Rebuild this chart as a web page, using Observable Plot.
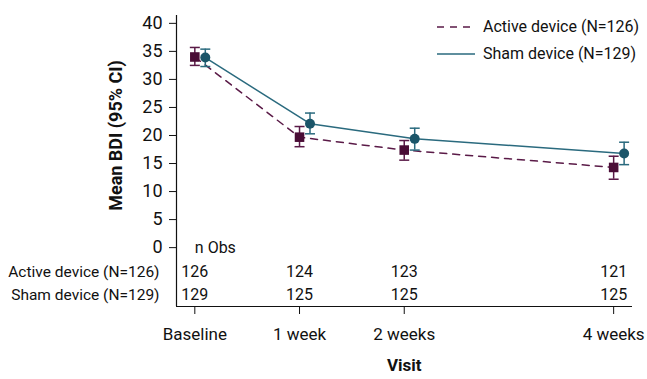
<!DOCTYPE html>
<html>
<head>
<meta charset="utf-8">
<script src="https://cdn.jsdelivr.net/npm/d3@7"></script>
<script src="https://cdn.jsdelivr.net/npm/@observablehq/plot@0.6"></script>
<style>
  html, body { margin: 0; padding: 0; background: #fff; }
  #wrap { position: relative; width: 647px; height: 379px; font-family: Roboto, "Noto Sans", sans-serif; }
  #legend { position: absolute; left: 437px; top: 13px; font-size: 16px; color: #111; }
  #legend .row { display: flex; align-items: center; height: 27px; }
  #legend svg { margin-right: 8px; }
</style>
</head>
<body>
<div id="wrap"><div id="legend"></div></div>
<script>
// ---- data ----
const weeks = [0, 1, 2, 4];
const visitLabels = ["Baseline", "1 week", "2 weeks", "4 weeks"];
const activeMean = [34.0, 19.7, 17.4, 14.3];
const activeLo   = [32.5, 18.0, 15.6, 12.2];
const activeHi   = [35.7, 21.6, 19.1, 16.3];
const shamMean   = [33.9, 22.1, 19.4, 16.8];
const shamLo     = [32.3, 20.3, 17.4, 14.8];
const shamHi     = [35.4, 24.0, 21.3, 18.8];
const nObsActive = [126, 124, 123, 121];
const nObsSham   = [129, 125, 125, 125];
const groupNames = ["Active device (N=126)", "Sham device (N=129)"];
const yTicks = [0, 5, 10, 15, 20, 25, 30, 35, 40];

// ---- styling / layout ----
const activeFill = "#4a0d36", activeStroke = "#5a1a47";
const shamFill = "#1b5569", shamStroke = "#2a6a7e";
const dodge = 0.1;
const xDomain = [-0.175, 4.18];
const yDomain = [-10.5, 41.4];
const rowY = [-4.3, -8.4];

const active = weeks.map((w, i) => ({x: w, mean: activeMean[i], lo: activeLo[i], hi: activeHi[i]}));
const sham = weeks.map((w, i) => ({x: w + dodge, mean: shamMean[i], lo: shamLo[i], hi: shamHi[i]}));
const table = [
  ...weeks.map((w, i) => ({x: w, y: rowY[0], n: nObsActive[i]})),
  ...weeks.map((w, i) => ({x: w, y: rowY[1], n: nObsSham[i]}))
];

const cap = {draw(ctx, size) { const r = Math.sqrt(size / Math.PI); ctx.moveTo(-r, 0); ctx.lineTo(r, 0); }};

const chart = Plot.plot({
  width: 647, height: 379,
  marginLeft: 176, marginRight: 15, marginTop: 15, marginBottom: 73,
  style: {fontFamily: "Roboto, 'Noto Sans', sans-serif", fontSize: "16px", color: "#111", background: "white"},
  x: {type: "linear", domain: xDomain, label: null},
  y: {domain: yDomain, label: null},
  marks: [
    Plot.ruleX([xDomain[0]], {stroke: "#111", strokeWidth: 1.2}),
    Plot.ruleY([yDomain[0]], {stroke: "#111", strokeWidth: 1.2}),
    Plot.axisY({ticks: yTicks, tickSize: 7, tickPadding: 7, fontSize: 18, label: null}),
    Plot.axisX({ticks: weeks, tickFormat: d => visitLabels[weeks.indexOf(d)], tickSize: 8, tickPadding: 13, fontSize: 17, label: null}),
    // Active
    Plot.line(active, {x: "x", y: "mean", stroke: activeStroke, strokeWidth: 1.5, strokeDasharray: "7,6"}),
    Plot.ruleX(active, {x: "x", y1: "lo", y2: "hi", stroke: activeStroke, strokeWidth: 1.5}),
    Plot.dot(active, {x: "x", y: "lo", symbol: cap, r: 5, stroke: activeStroke, strokeWidth: 1.5}),
    Plot.dot(active, {x: "x", y: "hi", symbol: cap, r: 5, stroke: activeStroke, strokeWidth: 1.5}),
    Plot.dot(active, {x: "x", y: "mean", symbol: "square", r: 5.4, fill: activeFill, stroke: "none"}),
    // Sham
    Plot.line(sham, {x: "x", y: "mean", stroke: shamStroke, strokeWidth: 1.5}),
    Plot.ruleX(sham, {x: "x", y1: "lo", y2: "hi", stroke: shamStroke, strokeWidth: 1.5}),
    Plot.dot(sham, {x: "x", y: "lo", symbol: cap, r: 5, stroke: shamStroke, strokeWidth: 1.5}),
    Plot.dot(sham, {x: "x", y: "hi", symbol: cap, r: 5, stroke: shamStroke, strokeWidth: 1.5}),
    Plot.dot(sham, {x: "x", y: "mean", symbol: "circle", r: 5, fill: shamFill, stroke: "none"}),
    // n Obs table
    Plot.text(["n Obs"], {x: [weeks[0]], y: [0], text: d => d, textAnchor: "start", fontSize: 16, fill: "#111"}),
    Plot.text(table, {x: "x", y: "y", text: d => String(d.n), fontSize: 16, fill: "#111"}),
    Plot.text(groupNames, {x: groupNames.map(() => xDomain[0]), y: rowY, text: d => d, textAnchor: "end", dx: -17, fontSize: 15.5, fill: "#111"}),
    // axis titles
    Plot.text(["Mean BDI (95% CI)"], {x: [xDomain[0]], y: [20], text: d => d, rotate: -90, dx: -60, fontSize: 18, fontWeight: "bold", fill: "#111"}),
    Plot.text(["Visit"], {x: [2], text: d => d, frameAnchor: "bottom", dy: 64, fontSize: 17, fontWeight: "bold", fill: "#111"})
  ]
});
document.getElementById("wrap").prepend(chart);

// legend
const legend = document.getElementById("legend");
[
  {label: groupNames[0], color: activeStroke, dash: "7,6"},
  {label: groupNames[1], color: shamStroke, dash: null}
].forEach(g => {
  const row = document.createElement("div");
  row.className = "row";
  row.innerHTML = `<svg width="38" height="4"><line x1="0" y1="2" x2="38" y2="2" stroke="${g.color}" stroke-width="1.5" ${g.dash ? `stroke-dasharray="${g.dash}"` : ""}/></svg><span>${g.label}</span>`;
  legend.appendChild(row);
});
</script>
</body>
</html>
